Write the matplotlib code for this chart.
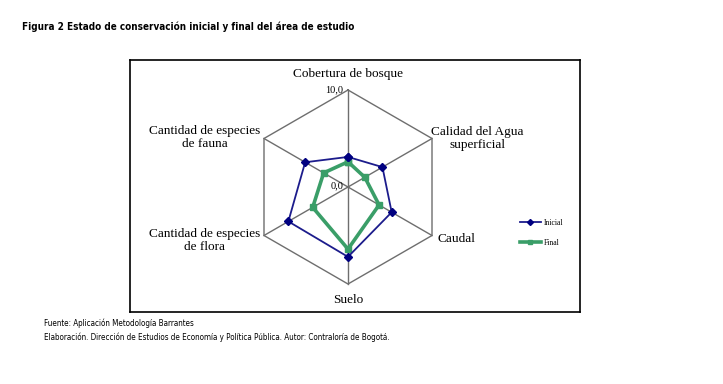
import numpy as np
import matplotlib.pyplot as plt

# data
categories = ['Cobertura de bosque', 'Calidad del Agua\nsuperficial', 'Caudal',
              'Suelo', 'Cantidad de especies\nde flora', 'Cantidad de especies\nde fauna']
inicial = [3.1, 4.1, 5.2, 7.2, 7.1, 5.1]
final = [2.6, 2.0, 3.7, 6.4, 4.2, 2.9]
rmax = 10.0

n = len(categories)
ang = np.pi/2 - np.arange(n)*2*np.pi/n

def xy(vals):
    v = np.asarray(vals + vals[:1], dtype=float)
    a = np.append(ang, ang[0])
    return v*np.cos(a), v*np.sin(a)

fig = plt.figure(figsize=(7.23, 3.84), dpi=100)
W, H = 723, 384
# axes = bordered box, center at px (348,187), 9.7 px per unit
x0, x1, y0, y1 = 130, 580, 60, 312
cx, cy, s = 348, 187, 9.7
ax = fig.add_axes([x0/W, 1-y1/H, (x1-x0)/W, (y1-y0)/H])
ax.set_xlim(-(cx-x0)/s, (x1-cx)/s)
ax.set_ylim(-(y1-cy)/s, (cy-y0)/s)
ax.set_xticks([]); ax.set_yticks([])
for sp in ax.spines.values():
    sp.set_linewidth(1.2)
    sp.set_color('black')

# grid
gx, gy = xy([rmax]*n)
ax.plot(gx, gy, color='#6e6e6e', lw=1.0, zorder=1)
for a in ang:
    ax.plot([0, rmax*np.cos(a)], [0, rmax*np.sin(a)], color='#6e6e6e', lw=1.0, zorder=1)

ix, iy = xy(inicial)
fx, fy = xy(final)
ax.plot(ix, iy, color='#1c1c8c', lw=1.3, marker='D', ms=3.8, mfc='#000080', mec='#000080',
        label='Inicial', zorder=3)
ax.plot(fx, fy, color='#3a9e68', lw=2.6, marker='s', ms=4, mfc='#3a9e68', mec='#3a9e68',
        label='Final', zorder=2)

serif = 'Liberation Serif'
fs = 9.5
ax.text(0, 11.0, categories[0], ha='center', va='bottom', family=serif, fontsize=fs)
ax.text(13.3, 5.0, categories[1], ha='center', va='center', family=serif, fontsize=fs,
        linespacing=1.1)
ax.text(9.2, -5.4, categories[2], ha='left', va='center', family=serif, fontsize=fs)
ax.text(0, -11.0, categories[3], ha='center', va='top', family=serif, fontsize=fs)
ax.text(-14.8, -5.5, categories[4], ha='center', va='center', family=serif, fontsize=fs,
        linespacing=1.1)
ax.text(-14.8, 5.1, categories[5], ha='center', va='center', family=serif, fontsize=fs,
        linespacing=1.1)
ax.text(-0.5, 10.0, '10,0', ha='right', va='center', family=serif, fontsize=7.5)
ax.text(-0.5, 0.1, '0,0', ha='right', va='center', family=serif, fontsize=7.5)

leg = ax.legend(loc='center left', bbox_to_anchor=((517-x0)/(x1-x0), 1-(233-y0)/(y1-y0)),
                frameon=False, handlelength=2.7, handletextpad=0.4, labelspacing=1.6,
                prop={'family': serif, 'size': 5.5}, borderaxespad=0, markerscale=0.8)

cond = 'DejaVu Sans'
fig.text(22/W, 1-27/H, 'Figura 2 Estado de conservación inicial y final del área de estudio',
         family=cond, stretch='condensed', fontweight='bold', fontsize=7.15,
         va='center', ha='left')
fig.text(44/W, 1-323/H, 'Fuente: Aplicación Metodología Barrantes', family=cond,
         stretch='condensed', fontsize=5.75, va='center', ha='left')
fig.text(44/W, 1-337/H, 'Elaboración. Dirección de Estudios de Economía y Política Pública. '
         'Autor: Contraloría de Bogotá.', family=cond, stretch='condensed',
         fontsize=5.75, va='center', ha='left')

fig.savefig('out.png', dpi=100)
